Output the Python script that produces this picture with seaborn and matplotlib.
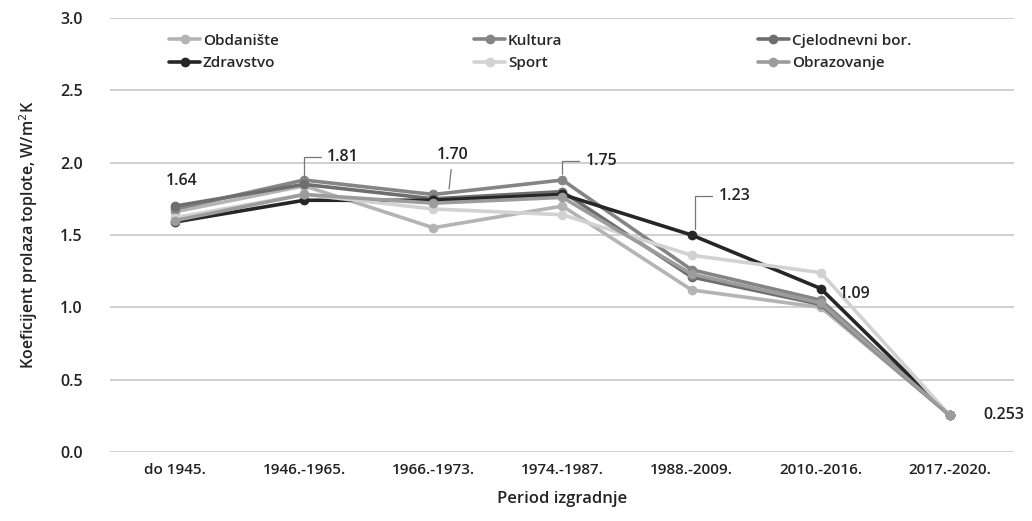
import pandas as pd
import matplotlib.pyplot as plt
import seaborn as sns
import numpy as np

# period of construction
periods = ['do 1945.', '1946.-1965.', '1966.-1973.', '1974.-1987.',
           '1988.-2009.', '2010.-2016.', '2017.-2020.']

# U values per building type (W/m2K)
obdaniste   = [1.66, 1.84, 1.55, 1.70, 1.12, 1.00, 0.253]
kultura     = [1.68, 1.88, 1.78, 1.88, 1.26, 1.05, 0.253]
cjelodnevni = [1.70, 1.85, 1.75, 1.80, 1.21, 1.02, 0.253]
zdravstvo   = [1.59, 1.74, 1.74, 1.78, 1.50, 1.13, 0.253]
sport       = [1.62, 1.78, 1.68, 1.64, 1.36, 1.24, 0.253]
obrazovanje = [1.60, 1.78, 1.72, 1.76, 1.23, 1.03, 0.253]

series_names = ['Obdanište', 'Kultura', 'Cjelodnevni bor.', 'Zdravstvo', 'Sport', 'Obrazovanje']
series_vals = [obdaniste, kultura, cjelodnevni, zdravstvo, sport, obrazovanje]

# averages shown as labels
avg_labels = ['1.64', '1.81', '1.70', '1.75', '1.23', '1.09', '0.253']

colors = {'Obdanište': '#b4b4b4', 'Kultura': '#858585', 'Cjelodnevni bor.': '#6e6e6e',
          'Zdravstvo': '#262626', 'Sport': '#d2d2d2', 'Obrazovanje': '#9c9c9c'}

rows = []
for name, vals in zip(series_names, series_vals):
    for p, v in zip(periods, vals):
        rows.append({'period': p, 'U': v, 'tip': name})
df = pd.DataFrame(rows)

sns.set_style('white')
plt.rcParams['font.family'] = ['Open Sans', 'DejaVu Sans']

fig = plt.figure(figsize=(10.32, 5.21), dpi=100)
ax = fig.add_axes([0.107, 0.1324, 0.876, 0.8331])

sns.lineplot(data=df, x='period', y='U', hue='tip', hue_order=series_names,
             palette=colors, marker='o', markersize=7, markeredgewidth=0,
             linewidth=2.6, sort=False, ax=ax)

ax.set_xlim(-0.5, 6.5)
ax.set_ylim(0, 3.0)
ax.set_yticks(np.arange(0, 3.01, 0.5))
ax.set_yticklabels([f'{t:.1f}' for t in np.arange(0, 3.01, 0.5)])
ax.yaxis.grid(True, color='#c8c8c8', linewidth=1.2)
ax.set_axisbelow(True)
for s in ax.spines.values():
    s.set_visible(False)
ax.tick_params(axis='x', length=0, labelsize=11, colors='#222222', pad=8)
ax.tick_params(axis='y', length=0, labelsize=11.5, colors='#222222', pad=20)
for lbl in ax.get_xticklabels() + ax.get_yticklabels():
    lbl.set_fontweight('semibold')

ax.set_xlabel('Period izgradnje', fontsize=12, fontweight='semibold', color='#222222', labelpad=10)
ax.set_ylabel('Koeficijent prolaza toplote, W/m$^2$K', fontsize=11.5,
              fontweight='semibold', color='#222222', labelpad=14)

# average labels
lbl_kw = dict(fontsize=11.5, fontweight='semibold', color='#222222')
ax.text(0.05, 1.87, avg_labels[0], ha='center', va='center', **lbl_kw)
ax.annotate(avg_labels[1], xy=(1, 1.88), xytext=(1.30, 2.04), ha='center', va='center',
            arrowprops=dict(arrowstyle='-', color='#777777', lw=0.9,
                            connectionstyle='angle,angleA=0,angleB=90,rad=0'), **lbl_kw)
ax.annotate(avg_labels[2], xy=(2.12, 1.80), xytext=(2.15, 2.05), ha='center', va='center',
            arrowprops=dict(arrowstyle='-', color='#777777', lw=0.9), **lbl_kw)
ax.annotate(avg_labels[3], xy=(3, 1.90), xytext=(3.30, 2.01), ha='center', va='center',
            arrowprops=dict(arrowstyle='-', color='#777777', lw=0.9,
                            connectionstyle='angle,angleA=0,angleB=90,rad=0'), **lbl_kw)
ax.annotate(avg_labels[4], xy=(4.03, 1.52), xytext=(4.33, 1.77), ha='center', va='center',
            arrowprops=dict(arrowstyle='-', color='#777777', lw=0.9,
                            connectionstyle='angle,angleA=0,angleB=90,rad=0'), **lbl_kw)
ax.text(5.26, 1.09, avg_labels[5], ha='center', va='center', **lbl_kw)
ax.text(6.42, 0.253, avg_labels[6], ha='center', va='center', **lbl_kw)

# legend, 3 columns x 2 rows
handles, labels = ax.get_legend_handles_labels()
order = ['Obdanište', 'Zdravstvo', 'Kultura', 'Sport', 'Cjelodnevni bor.', 'Obrazovanje']
hmap = dict(zip(labels, handles))
ax.legend([hmap[o] for o in order], order, ncol=3, loc='upper left',
          bbox_to_anchor=(0.055, 0.985), frameon=False,
          handlelength=2.0, handletextpad=0.2, columnspacing=12.8,
          labelspacing=0.55, borderaxespad=0.2,
          prop={'weight': 'semibold', 'size': 11})

fig.savefig('out.png', dpi=100)
